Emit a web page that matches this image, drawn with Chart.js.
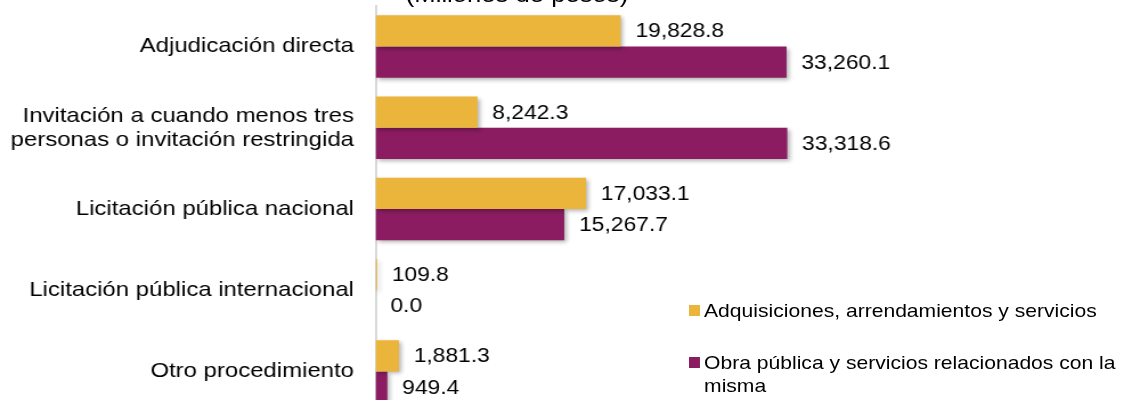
<!DOCTYPE html>
<html>
<head>
<meta charset="utf-8">
<script src="https://cdn.jsdelivr.net/npm/chart.js@4.4.1/dist/chart.umd.min.js"></script>
<style>
    html, body { margin: 0; padding: 0; background: #fff; }
    body { width: 1122px; height: 400px; overflow: hidden; position: relative; }
    #wrap {
        position: absolute; left: 0; top: -15px;
        width: 984px; height: 430px;
        transform: scaleX(1.14); transform-origin: 0 0;
    }
    #title {
        position: absolute; left: 0; top: -1px; width: 907px; text-align: center;
        font-family: "Liberation Sans", Arial, sans-serif; font-size: 22.5px;
        line-height: 21px; color: #000; white-space: nowrap;
    }
    #legend {
        position: absolute; left: 604px; top: 313.5px; width: 380px;
        font-family: "Liberation Sans", Arial, sans-serif; font-size: 18.5px;
        line-height: 23px; color: #000;
    }
    .item { display: flex; align-items: flex-start; margin-bottom: 29px; }
    .box { width: 9.6px; height: 11px; margin-top: 6px; margin-right: 4px; flex: none; }
    .txt { width: 366px; }
</style>
</head>
<body>
<div id="wrap">
    <canvas id="formsChart" width="984" height="430"></canvas>
    <div id="title"></div>
    <div id="legend"></div>
</div>
<script>
var categories = [
    'Adjudicación directa',
    ['Invitación a cuando menos tres', 'personas o invitación restringida'],
    'Licitación pública nacional',
    'Licitación pública internacional',
    'Otro procedimiento'
];
var seriesNames = [
    'Adquisiciones, arrendamientos y servicios',
    'Obra pública y servicios relacionados con la misma'
];
var adquisiciones = [19828.8, 8242.3, 17033.1, 109.8, 1881.3];
var obraPublica = [33260.1, 33318.6, 15267.7, 0.0, 949.4];
var seriesColors = ['#EBB43A', '#8B1C62'];
var titleText = '(Millones de pesos)';

var fontFamily = '"Liberation Sans", Arial, sans-serif';

function formatValue(v) {
    return v.toLocaleString('en-US', { minimumFractionDigits: 1, maximumFractionDigits: 1 });
}

var shadowPlugin = {
    id: 'barShadow',
    beforeDatasetsDraw: function(chart) {
        var ctx = chart.ctx;
        ctx.save();
        ctx.shadowColor = 'rgba(0,0,0,0.3)';
        ctx.shadowBlur = 4;
        ctx.shadowOffsetX = 2;
        ctx.shadowOffsetY = 2;
    },
    afterDatasetsDraw: function(chart) {
        chart.ctx.restore();
    }
};

var valueLabels = {
    id: 'valueLabels',
    afterDraw: function(chart) {
        var ctx = chart.ctx;
        ctx.save();
        ctx.font = '20px ' + fontFamily;
        ctx.fillStyle = '#000';
        ctx.textAlign = 'left';
        ctx.textBaseline = 'middle';
        chart.data.datasets.forEach(function(ds, i) {
            chart.getDatasetMeta(i).data.forEach(function(bar, j) {
                ctx.fillText(formatValue(ds.data[j]), bar.x + 13, bar.y + 1);
            });
        });
        ctx.restore();
    }
};

var ctx = document.getElementById('formsChart').getContext('2d');
var formsChart = new Chart(ctx, {
    type: 'bar',
    data: {
        labels: categories,
        datasets: [{
            label: seriesNames[0],
            data: adquisiciones,
            backgroundColor: seriesColors[0],
            categoryPercentage: 0.77,
            barPercentage: 1.0
        }, {
            label: seriesNames[1],
            data: obraPublica,
            backgroundColor: seriesColors[1],
            categoryPercentage: 0.77,
            barPercentage: 1.0
        }]
    },
    options: {
        indexAxis: 'y',
        responsive: false,
        animation: false,
        devicePixelRatio: 1,
        layout: { padding: { left: 0, right: 221, top: 21, bottom: 3 } },
        plugins: {
            legend: { display: false },
            tooltip: { enabled: false },
            title: { display: false }
        },
        scales: {
            x: { display: false, min: 0, max: 40000 },
            y: {
                position: 'left',
                grid: { display: false, drawTicks: false },
                border: { display: true, color: '#d9d9d9', width: 2 },
                ticks: {
                    color: '#000',
                    padding: 19,
                    font: { family: fontFamily, size: 21, lineHeight: 1.15 }
                },
                afterFit: function(scale) {
                    // labels overhang the plot edges in the original, so drop the extra margins
                    scale.width = 329.5;
                    scale.paddingTop = 0;
                    scale.paddingBottom = 0;
                }
            }
        }
    },
    plugins: [shadowPlugin, valueLabels]
});

document.getElementById('title').textContent = titleText;

var legendEl = document.getElementById('legend');
formsChart.data.datasets.forEach(function(ds) {
    var item = document.createElement('div');
    item.className = 'item';
    var box = document.createElement('span');
    box.className = 'box';
    box.style.background = ds.backgroundColor;
    var txt = document.createElement('span');
    txt.className = 'txt';
    txt.textContent = ds.label;
    item.appendChild(box);
    item.appendChild(txt);
    legendEl.appendChild(item);
});
</script>
</body>
</html>
